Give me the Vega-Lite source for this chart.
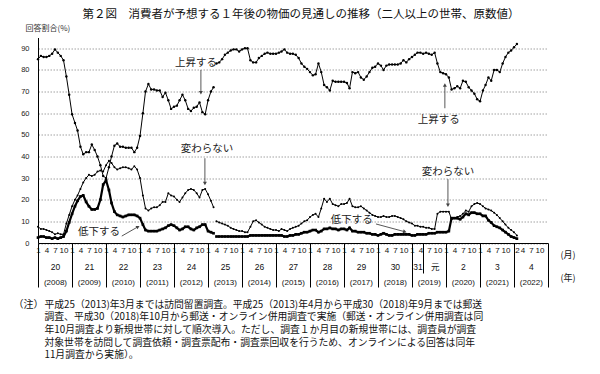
{
"$schema": "https://vega.github.io/schema/vega-lite/v6.json",
"width": 510, "height": 205.5,
"autosize": {"type": "none"},
"padding": {"left": 38, "top": 37.5, "right": 52, "bottom": 131},
"background": "white",
"config": {"view": {"stroke": null}, "font": "Noto Sans CJK JP",
"axisY": {"ticks": false, "domain": true, "domainColor": "#000", "domainWidth": 1, "grid": true, "gridColor": "#8a8a8a", "gridDash": [1.5, 1.5], "gridWidth": 0.8, "labelFont": "Liberation Sans Narrow, Liberation Sans, sans-serif", "labelFontSize": 7.5, "labelColor": "#222", "labelPadding": 9, "labelOverlap": false, "tickCount": 10}},
"title": {"text": "第２図　消費者が予想する１年後の物価の見通しの推移（二人以上の世帯、原数値）", "fontSize": 11.5, "font": "Noto Sans CJK JP", "fontWeight": "normal", "color": "#111", "anchor": "middle", "frame": "group", "offset": 4, "dx": 8},
"datasets": {
"m": [
{"d":"2008-01","p":1,"U":85,"K":7.5,"T":2.5},
{"d":"2008-02","p":1,"U":86.5,"K":6.5,"T":3},
{"d":"2008-03","p":1,"U":86,"K":6.5,"T":3},
{"d":"2008-04","p":1,"U":86,"K":6,"T":2.5},
{"d":"2008-05","p":1,"U":86.5,"K":5.5,"T":2.5},
{"d":"2008-06","p":1,"U":87.5,"K":5,"T":2},
{"d":"2008-07","p":1,"U":89.5,"K":4,"T":2.5},
{"d":"2008-08","p":1,"U":88,"K":4.5,"T":2},
{"d":"2008-09","p":1,"U":86.5,"K":4,"T":2.5},
{"d":"2008-10","p":1,"U":84.5,"K":4,"T":3},
{"d":"2008-11","p":1,"U":77,"K":9,"T":5.5},
{"d":"2008-12","p":1,"U":68.5,"K":13,"T":9.5},
{"d":"2009-01","p":1,"U":59.5,"K":17,"T":13.5},
{"d":"2009-02","p":1,"U":55.5,"K":20,"T":17},
{"d":"2009-03","p":1,"U":52,"K":22,"T":19.5},
{"d":"2009-04","p":1,"U":44.5,"K":25,"T":21.5},
{"d":"2009-05","p":1,"U":41,"K":28,"T":22},
{"d":"2009-06","p":1,"U":42,"K":30,"T":19},
{"d":"2009-07","p":1,"U":42,"K":31.5,"T":17},
{"d":"2009-08","p":1,"U":45.5,"K":31,"T":15.5},
{"d":"2009-09","p":1,"U":43,"K":31.5,"T":15.5},
{"d":"2009-10","p":1,"U":40,"K":33,"T":16},
{"d":"2009-11","p":1,"U":36,"K":33.5,"T":20},
{"d":"2009-12","p":1,"U":31,"K":33,"T":27},
{"d":"2010-01","p":1,"U":30,"K":36,"T":29},
{"d":"2010-02","p":1,"U":35,"K":38,"T":24.5},
{"d":"2010-03","p":1,"U":40,"K":37,"T":18.5},
{"d":"2010-04","p":1,"U":45,"K":35,"T":14.5},
{"d":"2010-05","p":1,"U":46,"K":34,"T":13},
{"d":"2010-06","p":1,"U":44.5,"K":34.5,"T":12.5},
{"d":"2010-07","p":1,"U":44.5,"K":35,"T":12},
{"d":"2010-08","p":1,"U":44,"K":35,"T":12.5},
{"d":"2010-09","p":1,"U":44,"K":34.5,"T":13},
{"d":"2010-10","p":1,"U":44,"K":34,"T":13},
{"d":"2010-11","p":1,"U":42,"K":35.5,"T":13},
{"d":"2010-12","p":1,"U":44,"K":34,"T":12.5},
{"d":"2011-01","p":1,"U":49.5,"K":30,"T":11.5},
{"d":"2011-02","p":1,"U":60,"K":22,"T":8.5},
{"d":"2011-03","p":1,"U":70,"K":16,"T":6},
{"d":"2011-04","p":1,"U":73.5,"K":15,"T":5.5},
{"d":"2011-05","p":1,"U":71,"K":16,"T":5.5},
{"d":"2011-06","p":1,"U":71,"K":16.5,"T":5.5},
{"d":"2011-07","p":1,"U":70.5,"K":16.5,"T":5.5},
{"d":"2011-08","p":1,"U":70.5,"K":17.5,"T":6},
{"d":"2011-09","p":1,"U":67.5,"K":19,"T":6.5},
{"d":"2011-10","p":1,"U":69.5,"K":19,"T":7},
{"d":"2011-11","p":1,"U":66,"K":23,"T":8},
{"d":"2011-12","p":1,"U":62,"K":22,"T":8.5},
{"d":"2012-01","p":1,"U":63,"K":21.5,"T":8},
{"d":"2012-02","p":1,"U":63.5,"K":20,"T":7},
{"d":"2012-03","p":1,"U":66,"K":19,"T":6},
{"d":"2012-04","p":1,"U":68.5,"K":21,"T":6.5},
{"d":"2012-05","p":1,"U":66,"K":23,"T":7.5},
{"d":"2012-06","p":1,"U":62,"K":24.5,"T":7.5},
{"d":"2012-07","p":1,"U":61,"K":25,"T":6.5},
{"d":"2012-08","p":1,"U":62.5,"K":24.5,"T":6},
{"d":"2012-09","p":1,"U":63,"K":23,"T":7},
{"d":"2012-10","p":1,"U":65,"K":21,"T":7.5},
{"d":"2012-11","p":1,"U":60.5,"K":24.5,"T":8.5},
{"d":"2012-12","p":1,"U":59.5,"K":25,"T":8.5},
{"d":"2013-01","p":1,"U":66,"K":22.5,"T":5.5},
{"d":"2013-02","p":1,"U":70,"K":19.5,"T":5},
{"d":"2013-03","p":1,"U":72,"K":16.5,"T":4.5},
{"d":"2013-04","p":2,"U":83,"K":10,"T":3},
{"d":"2013-05","p":2,"U":83.5,"K":9.5,"T":3},
{"d":"2013-06","p":2,"U":85,"K":9,"T":3},
{"d":"2013-07","p":2,"U":87,"K":8.5,"T":3},
{"d":"2013-08","p":2,"U":88,"K":8,"T":3},
{"d":"2013-09","p":2,"U":89,"K":7,"T":3},
{"d":"2013-10","p":2,"U":89.5,"K":6.5,"T":3},
{"d":"2013-11","p":2,"U":89.5,"K":6,"T":3},
{"d":"2013-12","p":2,"U":88.5,"K":5.5,"T":3},
{"d":"2014-01","p":2,"U":89.5,"K":5.5,"T":3},
{"d":"2014-02","p":2,"U":90,"K":5,"T":3},
{"d":"2014-03","p":2,"U":90,"K":5,"T":3},
{"d":"2014-04","p":2,"U":84.5,"K":7.5,"T":3.5},
{"d":"2014-05","p":2,"U":83.5,"K":10,"T":3.5},
{"d":"2014-06","p":2,"U":83.5,"K":10.5,"T":3.5},
{"d":"2014-07","p":2,"U":85.5,"K":9.5,"T":3.5},
{"d":"2014-08","p":2,"U":86.5,"K":8.5,"T":3.5},
{"d":"2014-09","p":2,"U":87.5,"K":7.5,"T":3.5},
{"d":"2014-10","p":2,"U":88,"K":7,"T":3.5},
{"d":"2014-11","p":2,"U":87.5,"K":6.5,"T":3.5},
{"d":"2014-12","p":2,"U":87.5,"K":6,"T":3.5},
{"d":"2015-01","p":2,"U":87.5,"K":6,"T":3.5},
{"d":"2015-02","p":2,"U":88,"K":5.5,"T":3.5},
{"d":"2015-03","p":2,"U":88.5,"K":6.5,"T":3.5},
{"d":"2015-04","p":2,"U":89.5,"K":6,"T":3},
{"d":"2015-05","p":2,"U":88,"K":5.5,"T":3},
{"d":"2015-06","p":2,"U":87.5,"K":6.5,"T":3.5},
{"d":"2015-07","p":2,"U":87.5,"K":7,"T":3.5},
{"d":"2015-08","p":2,"U":87,"K":7.5,"T":4},
{"d":"2015-09","p":2,"U":85.5,"K":8,"T":4},
{"d":"2015-10","p":2,"U":83,"K":9,"T":4.5},
{"d":"2015-11","p":2,"U":81.5,"K":10,"T":5},
{"d":"2015-12","p":2,"U":80.5,"K":10.5,"T":5},
{"d":"2016-01","p":2,"U":79,"K":12,"T":5.5},
{"d":"2016-02","p":2,"U":77.5,"K":13,"T":6},
{"d":"2016-03","p":2,"U":78,"K":13.5,"T":6},
{"d":"2016-04","p":2,"U":83,"K":12,"T":5},
{"d":"2016-05","p":2,"U":79,"K":16,"T":5.5},
{"d":"2016-06","p":2,"U":73,"K":20.5,"T":6.5},
{"d":"2016-07","p":2,"U":72,"K":19,"T":6.5},
{"d":"2016-08","p":2,"U":70.5,"K":20.5,"T":7},
{"d":"2016-09","p":2,"U":75,"K":18,"T":6.5},
{"d":"2016-10","p":2,"U":74.5,"K":17.5,"T":6.5},
{"d":"2016-11","p":2,"U":74.5,"K":17,"T":6},
{"d":"2016-12","p":2,"U":74.5,"K":18,"T":6.5},
{"d":"2017-01","p":2,"U":74.5,"K":18,"T":6.5},
{"d":"2017-02","p":2,"U":74,"K":18.5,"T":6},
{"d":"2017-03","p":2,"U":71.5,"K":20.5,"T":7},
{"d":"2017-04","p":2,"U":79,"K":17,"T":5.5},
{"d":"2017-05","p":2,"U":78.5,"K":16.5,"T":5.5},
{"d":"2017-06","p":2,"U":79,"K":16.5,"T":5},
{"d":"2017-07","p":2,"U":76.5,"K":17,"T":5},
{"d":"2017-08","p":2,"U":75.5,"K":16,"T":5},
{"d":"2017-09","p":2,"U":77,"K":15,"T":4.5},
{"d":"2017-10","p":2,"U":79,"K":14,"T":4.5},
{"d":"2017-11","p":2,"U":81,"K":13,"T":4},
{"d":"2017-12","p":2,"U":81.5,"K":12.5,"T":4},
{"d":"2018-01","p":2,"U":83,"K":12,"T":3.5},
{"d":"2018-02","p":2,"U":82,"K":12,"T":4},
{"d":"2018-03","p":2,"U":80,"K":12.5,"T":4.5},
{"d":"2018-04","p":2,"U":82,"K":12,"T":4},
{"d":"2018-05","p":2,"U":82.5,"K":12,"T":3.5},
{"d":"2018-06","p":2,"U":82.5,"K":12.5,"T":3.5},
{"d":"2018-07","p":2,"U":82.5,"K":12.5,"T":4},
{"d":"2018-08","p":2,"U":82.5,"K":12,"T":4},
{"d":"2018-09","p":2,"U":83,"K":11.5,"T":4},
{"d":"2018-10","p":2,"U":84.5,"K":11,"T":4},
{"d":"2018-11","p":2,"U":83.5,"K":10,"T":4},
{"d":"2018-12","p":2,"U":85,"K":9.5,"T":4},
{"d":"2019-01","p":2,"U":86,"K":9,"T":3.5},
{"d":"2019-02","p":2,"U":87,"K":8,"T":3.5},
{"d":"2019-03","p":2,"U":88,"K":8,"T":4},
{"d":"2019-04","p":2,"U":88,"K":7.5,"T":4},
{"d":"2019-05","p":2,"U":87.5,"K":7.5,"T":4},
{"d":"2019-06","p":2,"U":88,"K":7,"T":4},
{"d":"2019-07","p":2,"U":87.5,"K":7,"T":4.5},
{"d":"2019-08","p":2,"U":87,"K":6.5,"T":4.5},
{"d":"2019-09","p":2,"U":88,"K":6.5,"T":4.5},
{"d":"2019-10","p":2,"U":83,"K":13.5,"T":5},
{"d":"2019-11","p":2,"U":79,"K":14.5,"T":5},
{"d":"2019-12","p":2,"U":78.5,"K":14.5,"T":5},
{"d":"2020-01","p":2,"U":78,"K":14.5,"T":5},
{"d":"2020-02","p":2,"U":76.5,"K":14.5,"T":5.5},
{"d":"2020-03","p":2,"U":71,"K":11,"T":11.5},
{"d":"2020-04","p":2,"U":71.5,"K":11.5,"T":11.5},
{"d":"2020-05","p":2,"U":72.5,"K":12,"T":11.5},
{"d":"2020-06","p":2,"U":71.5,"K":12.5,"T":11},
{"d":"2020-07","p":2,"U":75,"K":13.5,"T":12},
{"d":"2020-08","p":2,"U":74.5,"K":15,"T":13.5},
{"d":"2020-09","p":2,"U":72,"K":14.5,"T":13},
{"d":"2020-10","p":2,"U":70.5,"K":17,"T":14},
{"d":"2020-11","p":2,"U":69,"K":18,"T":14},
{"d":"2020-12","p":2,"U":66.5,"K":18.5,"T":13.5},
{"d":"2021-01","p":2,"U":65.5,"K":18,"T":13.5},
{"d":"2021-02","p":2,"U":70.5,"K":17,"T":12.5},
{"d":"2021-03","p":2,"U":73,"K":16,"T":12.5},
{"d":"2021-04","p":2,"U":76.5,"K":15.5,"T":10.5},
{"d":"2021-05","p":2,"U":75,"K":15,"T":9.5},
{"d":"2021-06","p":2,"U":80,"K":14,"T":8},
{"d":"2021-07","p":2,"U":80,"K":13,"T":7.5},
{"d":"2021-08","p":2,"U":79,"K":11.5,"T":7},
{"d":"2021-09","p":2,"U":83,"K":10,"T":6},
{"d":"2021-10","p":2,"U":86,"K":8.5,"T":5},
{"d":"2021-11","p":2,"U":88,"K":7,"T":4},
{"d":"2021-12","p":2,"U":89,"K":6,"T":3},
{"d":"2022-01","p":2,"U":90.5,"K":5,"T":2.5},
{"d":"2022-02","p":2,"U":92,"K":3.5,"T":2}
],
"ann": [
{"t":"上昇する","d":"2012-08-24","v":83.2},
{"t":"上昇する","d":"2019-10-16","v":57},
{"t":"変わらない","d":"2012-12-20","v":43.4},
{"t":"変わらない","d":"2020-01-22","v":32.9},
{"t":"低下する","d":"2009-10-16","v":5},
{"t":"低下する","d":"2017-03-25","v":10.6}
],
"arr": [
{"id":1,"d":"2012-10-16","v":80,"d2":"2012-10-16","v2":69.5},
{"id":2,"d":"2019-12-20","v":62.3,"d2":"2019-12-20","v2":73},
{"id":3,"d":"2012-11-28","v":39.2,"d2":"2012-11-28","v2":27.5},
{"id":4,"d":"2020-01-22","v":29.5,"d2":"2020-01-22","v2":17.5},
{"id":5,"d":"2010-06-19","v":3.2,"d2":"2010-12-10","v2":7.5},
{"id":6,"d":"2017-12-10","v":8.8,"d2":"2018-10-16","v2":5.2}
]
},
"layer": [
{
"data": {"name": "m"},
"transform": [{"fold": ["U","K","T"], "as": ["s","v"]}, {"filter": "datum.s == 'U'"}],
"mark": {"type": "line", "color": "#000", "strokeWidth": 1, "point": {"filled": true, "size": 6, "color": "#000"}},
"encoding": {
"x": {"field": "d", "type": "temporal",
"scale": {"type": "utc", "nice": false, "domain": [{"year":2008,"month":1,"date":1,"utc":true},{"year":2023,"month":1,"date":1,"utc":true}]},
"axis": {"orient": "bottom", "ticks": false, "grid": false, "domain": true, "domainColor": "#000", "domainWidth": 1,
"values": [
{"year":2008,"month":1,"utc":true},{"year":2008,"month":4,"utc":true},{"year":2008,"month":7,"utc":true},{"year":2008,"month":10,"utc":true},
{"year":2009,"month":1,"utc":true},{"year":2009,"month":4,"utc":true},{"year":2009,"month":7,"utc":true},{"year":2009,"month":10,"utc":true},
{"year":2010,"month":1,"utc":true},{"year":2010,"month":4,"utc":true},{"year":2010,"month":7,"utc":true},{"year":2010,"month":10,"utc":true},
{"year":2011,"month":1,"utc":true},{"year":2011,"month":4,"utc":true},{"year":2011,"month":7,"utc":true},{"year":2011,"month":10,"utc":true},
{"year":2012,"month":1,"utc":true},{"year":2012,"month":4,"utc":true},{"year":2012,"month":7,"utc":true},{"year":2012,"month":10,"utc":true},
{"year":2013,"month":1,"utc":true},{"year":2013,"month":4,"utc":true},{"year":2013,"month":7,"utc":true},{"year":2013,"month":10,"utc":true},
{"year":2014,"month":1,"utc":true},{"year":2014,"month":4,"utc":true},{"year":2014,"month":7,"utc":true},{"year":2014,"month":10,"utc":true},
{"year":2015,"month":1,"utc":true},{"year":2015,"month":4,"utc":true},{"year":2015,"month":7,"utc":true},{"year":2015,"month":10,"utc":true},
{"year":2016,"month":1,"utc":true},{"year":2016,"month":4,"utc":true},{"year":2016,"month":7,"utc":true},{"year":2016,"month":10,"utc":true},
{"year":2017,"month":1,"utc":true},{"year":2017,"month":4,"utc":true},{"year":2017,"month":7,"utc":true},{"year":2017,"month":10,"utc":true},
{"year":2018,"month":1,"utc":true},{"year":2018,"month":4,"utc":true},{"year":2018,"month":7,"utc":true},{"year":2018,"month":10,"utc":true},
{"year":2019,"month":1,"utc":true},{"year":2019,"month":4,"utc":true},{"year":2019,"month":7,"utc":true},{"year":2019,"month":10,"utc":true},
{"year":2020,"month":1,"utc":true},{"year":2020,"month":4,"utc":true},{"year":2020,"month":7,"utc":true},{"year":2020,"month":10,"utc":true},
{"year":2021,"month":1,"utc":true},{"year":2021,"month":4,"utc":true},{"year":2021,"month":7,"utc":true},{"year":2021,"month":10,"utc":true},
{"year":2022,"month":2,"utc":true},{"year":2022,"month":4,"utc":true},{"year":2022,"month":7,"utc":true},{"year":2022,"month":10,"utc":true}
],
"labelExpr": "'' + (utcmonth(datum.value) + 1)",
"labelFont": "Liberation Sans Narrow, Liberation Sans, sans-serif", "labelFontSize": 8, "labelColor": "#111", "labelPadding": 3,
"labelOverlap": false, "labelFlush": false, "labelBound": false,
"title": "(月)", "titleX": 522, "titleY": 11, "titleAlign": "left", "titleBaseline": "middle", "titleAngle": 0,
"titleFont": "Noto Sans CJK JP", "titleFontSize": 9, "titleFontWeight": "normal", "titleColor": "#111"}},
"y": {"field": "v", "type": "quantitative", "scale": {"domain": [0, 95], "nice": false},
"axis": {"values": [0,10,20,30,40,50,60,70,80,90], "labelOverlap": false,
"title": "回答割合(%)", "titleAngle": 0, "titleAlign": "left", "titleBaseline": "middle", "titleX": -13, "titleY": -9.5,
"titleFont": "Noto Sans CJK JP", "titleFontSize": 8, "titleFontWeight": "normal", "titleColor": "#333"}},
"detail": {"field": "p"}
}
},
{
"data": {"name": "m"},
"transform": [{"fold": ["U","K","T"], "as": ["s","v"]}, {"filter": "datum.s == 'K'"}],
"mark": {"type": "line", "color": "#000", "strokeWidth": 1, "point": {"filled": true, "size": 4, "color": "#000"}},
"encoding": {
"x": {"field": "d", "type": "temporal",
"scale": {"type": "utc", "nice": false, "domain": [{"year":2008,"month":1,"date":1,"utc":true},{"year":2023,"month":1,"date":1,"utc":true}]},
"axis": {"orient": "bottom", "labels": false, "grid": false, "domain": false, "ticks": true, "tickColor": "#000", "tickWidth": 1,
"tickSize": {"condition": {"test": "utcyear(datum.value) == 2019 && utcmonth(datum.value) == 4", "value": 30}, "value": 44},
"values": [
{"year":2008,"month":1,"utc":true},{"year":2009,"month":1,"utc":true},{"year":2010,"month":1,"utc":true},{"year":2011,"month":1,"utc":true},
{"year":2012,"month":1,"utc":true},{"year":2013,"month":1,"utc":true},{"year":2014,"month":1,"utc":true},{"year":2015,"month":1,"utc":true},
{"year":2016,"month":1,"utc":true},{"year":2017,"month":1,"utc":true},{"year":2018,"month":1,"utc":true},{"year":2019,"month":1,"utc":true},
{"year":2019,"month":5,"utc":true},
{"year":2020,"month":1,"utc":true},{"year":2021,"month":1,"utc":true},{"year":2022,"month":1,"utc":true},{"year":2023,"month":1,"utc":true}
],
"title": "(年)", "titleX": 522, "titleY": 34, "titleAlign": "left", "titleBaseline": "middle", "titleAngle": 0,
"titleFont": "Noto Sans CJK JP", "titleFontSize": 9, "titleFontWeight": "normal", "titleColor": "#111"}},
"y": {"field": "v", "type": "quantitative", "scale": {"domain": [0, 95], "nice": false},
"axis": {"values": [0,10,20,30,40,50,60,70,80,90], "labelOverlap": false,
"title": "回答割合(%)", "titleAngle": 0, "titleAlign": "left", "titleBaseline": "middle", "titleX": -13, "titleY": -9.5,
"titleFont": "Noto Sans CJK JP", "titleFontSize": 8, "titleFontWeight": "normal", "titleColor": "#333"}},
"detail": {"field": "p"}
}
},
{
"data": {"name": "m"},
"transform": [{"fold": ["U","K","T"], "as": ["s","v"]}, {"filter": "datum.s == 'T'"}],
"mark": {"type": "line", "color": "#000", "strokeWidth": 2.2, "point": {"filled": true, "shape": "square", "size": 7, "color": "#000"}},
"encoding": {
"x": {"field": "d", "type": "temporal",
"scale": {"type": "utc", "nice": false, "domain": [{"year":2008,"month":1,"date":1,"utc":true},{"year":2023,"month":1,"date":1,"utc":true}]},
"axis": {"orient": "bottom", "ticks": false, "grid": false, "domain": false,
"values": [
{"year":2008,"month":7,"utc":true},{"year":2009,"month":7,"utc":true},{"year":2010,"month":7,"utc":true},{"year":2011,"month":7,"utc":true},
{"year":2012,"month":7,"utc":true},{"year":2013,"month":7,"utc":true},{"year":2014,"month":7,"utc":true},{"year":2015,"month":7,"utc":true},
{"year":2016,"month":7,"utc":true},{"year":2017,"month":7,"utc":true},{"year":2018,"month":7,"utc":true},
{"year":2019,"month":3,"utc":true},{"year":2019,"month":9,"utc":true},
{"year":2020,"month":7,"utc":true},{"year":2021,"month":7,"utc":true},{"year":2022,"month":7,"utc":true}
],
"labelExpr": "utcyear(datum.value) < 2019 ? '' + (utcyear(datum.value) - 1988) : (utcyear(datum.value) == 2019 ? (utcmonth(datum.value) < 4 ? '31' : '元') : '' + (utcyear(datum.value) - 2018))",
"labelFont": "Liberation Sans Narrow, Liberation Sans, Noto Sans CJK JP, sans-serif", "labelFontSize": 8.5, "labelColor": "#111", "labelPadding": 19,
"labelOverlap": false, "labelFlush": false, "labelBound": false,
"title": "（注）", "titleX": -25, "titleY": 56, "titleAlign": "left", "titleBaseline": "top", "titleAngle": 0,
"titleFont": "Noto Sans CJK JP", "titleFontSize": 10, "titleFontWeight": "normal", "titleColor": "#111"}},
"y": {"field": "v", "type": "quantitative", "scale": {"domain": [0, 95], "nice": false},
"axis": {"values": [0,10,20,30,40,50,60,70,80,90], "labelOverlap": false,
"title": "回答割合(%)", "titleAngle": 0, "titleAlign": "left", "titleBaseline": "middle", "titleX": -13, "titleY": -9.5,
"titleFont": "Noto Sans CJK JP", "titleFontSize": 8, "titleFontWeight": "normal", "titleColor": "#333"}},
"detail": {"field": "p"}
}
},
{
"data": {"name": "ann"},
"mark": {"type": "text", "font": "Noto Sans CJK JP", "fontSize": 10.5, "color": "#222", "align": "center", "baseline": "middle"},
"encoding": {
"x": {"field": "d", "type": "temporal",
"scale": {"type": "utc", "nice": false, "domain": [{"year":2008,"month":1,"date":1,"utc":true},{"year":2023,"month":1,"date":1,"utc":true}]},
"axis": {"orient": "bottom", "ticks": false, "grid": false, "domain": false,
"values": [
{"year":2008,"month":7,"utc":true},{"year":2009,"month":7,"utc":true},{"year":2010,"month":7,"utc":true},{"year":2011,"month":7,"utc":true},
{"year":2012,"month":7,"utc":true},{"year":2013,"month":7,"utc":true},{"year":2014,"month":7,"utc":true},{"year":2015,"month":7,"utc":true},
{"year":2016,"month":7,"utc":true},{"year":2017,"month":7,"utc":true},{"year":2018,"month":7,"utc":true},{"year":2019,"month":7,"utc":true},
{"year":2020,"month":7,"utc":true},{"year":2021,"month":7,"utc":true},{"year":2022,"month":7,"utc":true}
],
"labelExpr": "'(' + utcyear(datum.value) + ')'",
"labelFont": "Liberation Sans Narrow, Liberation Sans, sans-serif", "labelFontSize": 8, "labelColor": "#111", "labelPadding": 35,
"labelOverlap": false, "labelFlush": false, "labelBound": false,
"title": ["平成25（2013)年3月までは訪問留置調査。平成25（2013)年4月から平成30（2018)年9月までは郵送", "調査、平成30（2018)年10月から郵送・オンライン併用調査で実施（郵送・オンライン併用調査は同", "年10月調査より新規世帯に対して順次導入。ただし、調査１か月目の新規世帯には、調査員が調査", "対象世帯を訪問して調査依頼・調査票配布・調査票回収を行うため、オンラインによる回答は同年", "11月調査から実施）。"],
"titleX": 6, "titleY": 56, "titleAlign": "left", "titleBaseline": "top", "titleAngle": 0, "titleLineHeight": 12.7,
"titleFont": "Noto Sans CJK JP", "titleFontSize": 9.8, "titleFontWeight": "normal", "titleColor": "#111"}},
"y": {"field": "v", "type": "quantitative", "scale": {"domain": [0, 95], "nice": false},
"axis": {"values": [0,10,20,30,40,50,60,70,80,90], "labelOverlap": false,
"title": "回答割合(%)", "titleAngle": 0, "titleAlign": "left", "titleBaseline": "middle", "titleX": -13, "titleY": -9.5,
"titleFont": "Noto Sans CJK JP", "titleFontSize": 8, "titleFontWeight": "normal", "titleColor": "#333"}},
"text": {"field": "t"}
}
},
{
"data": {"name": "arr"},
"mark": {"type": "rule", "color": "#444", "strokeWidth": 0.9},
"encoding": {
"x": {"field": "d", "type": "temporal", "axis": null,
"scale": {"type": "utc", "nice": false, "domain": [{"year":2008,"month":1,"date":1,"utc":true},{"year":2023,"month":1,"date":1,"utc":true}]}},
"x2": {"field": "d2"},
"y": {"field": "v", "type": "quantitative", "scale": {"domain": [0, 95], "nice": false},
"axis": {"values": [0,10,20,30,40,50,60,70,80,90], "labelOverlap": false,
"title": "回答割合(%)", "titleAngle": 0, "titleAlign": "left", "titleBaseline": "middle", "titleX": -13, "titleY": -9.5,
"titleFont": "Noto Sans CJK JP", "titleFontSize": 8, "titleFontWeight": "normal", "titleColor": "#333"}},
"y2": {"field": "v2"}
}
},
{
"data": {"name": "arr"},
"transform": [{"filter": "datum.id == 1 || datum.id == 3 || datum.id == 4"}],
"mark": {"type": "point", "shape": "triangle-down", "filled": true, "size": 16, "color": "#444", "opacity": 1},
"encoding": {
"x": {"field": "d2", "type": "temporal", "axis": null,
"scale": {"type": "utc", "nice": false, "domain": [{"year":2008,"month":1,"date":1,"utc":true},{"year":2023,"month":1,"date":1,"utc":true}]}},
"y": {"field": "v2", "type": "quantitative", "scale": {"domain": [0, 95], "nice": false},
"axis": {"values": [0,10,20,30,40,50,60,70,80,90], "labelOverlap": false,
"title": "回答割合(%)", "titleAngle": 0, "titleAlign": "left", "titleBaseline": "middle", "titleX": -13, "titleY": -9.5,
"titleFont": "Noto Sans CJK JP", "titleFontSize": 8, "titleFontWeight": "normal", "titleColor": "#333"}}
}
},
{
"data": {"name": "arr"},
"transform": [{"filter": "datum.id == 2"}],
"mark": {"type": "point", "shape": "triangle-up", "filled": true, "size": 16, "color": "#444", "opacity": 1},
"encoding": {
"x": {"field": "d2", "type": "temporal", "axis": null,
"scale": {"type": "utc", "nice": false, "domain": [{"year":2008,"month":1,"date":1,"utc":true},{"year":2023,"month":1,"date":1,"utc":true}]}},
"y": {"field": "v2", "type": "quantitative", "scale": {"domain": [0, 95], "nice": false},
"axis": {"values": [0,10,20,30,40,50,60,70,80,90], "labelOverlap": false,
"title": "回答割合(%)", "titleAngle": 0, "titleAlign": "left", "titleBaseline": "middle", "titleX": -13, "titleY": -9.5,
"titleFont": "Noto Sans CJK JP", "titleFontSize": 8, "titleFontWeight": "normal", "titleColor": "#333"}}
}
},
{
"data": {"name": "arr"},
"transform": [{"filter": "datum.id == 5"}],
"mark": {"type": "point", "shape": "triangle-right", "angle": 330, "filled": true, "size": 16, "color": "#444", "opacity": 1},
"encoding": {
"x": {"field": "d2", "type": "temporal", "axis": null,
"scale": {"type": "utc", "nice": false, "domain": [{"year":2008,"month":1,"date":1,"utc":true},{"year":2023,"month":1,"date":1,"utc":true}]}},
"y": {"field": "v2", "type": "quantitative", "scale": {"domain": [0, 95], "nice": false},
"axis": {"values": [0,10,20,30,40,50,60,70,80,90], "labelOverlap": false,
"title": "回答割合(%)", "titleAngle": 0, "titleAlign": "left", "titleBaseline": "middle", "titleX": -13, "titleY": -9.5,
"titleFont": "Noto Sans CJK JP", "titleFontSize": 8, "titleFontWeight": "normal", "titleColor": "#333"}}
}
},
{
"data": {"name": "arr"},
"transform": [{"filter": "datum.id == 6"}],
"mark": {"type": "point", "shape": "triangle-right", "angle": 15, "filled": true, "size": 16, "color": "#444", "opacity": 1},
"encoding": {
"x": {"field": "d2", "type": "temporal", "axis": null,
"scale": {"type": "utc", "nice": false, "domain": [{"year":2008,"month":1,"date":1,"utc":true},{"year":2023,"month":1,"date":1,"utc":true}]}},
"y": {"field": "v2", "type": "quantitative", "scale": {"domain": [0, 95], "nice": false},
"axis": {"values": [0,10,20,30,40,50,60,70,80,90], "labelOverlap": false,
"title": "回答割合(%)", "titleAngle": 0, "titleAlign": "left", "titleBaseline": "middle", "titleX": -13, "titleY": -9.5,
"titleFont": "Noto Sans CJK JP", "titleFontSize": 8, "titleFontWeight": "normal", "titleColor": "#333"}}
}
}
],
"resolve": {"axis": {"x": "independent"}}
}
